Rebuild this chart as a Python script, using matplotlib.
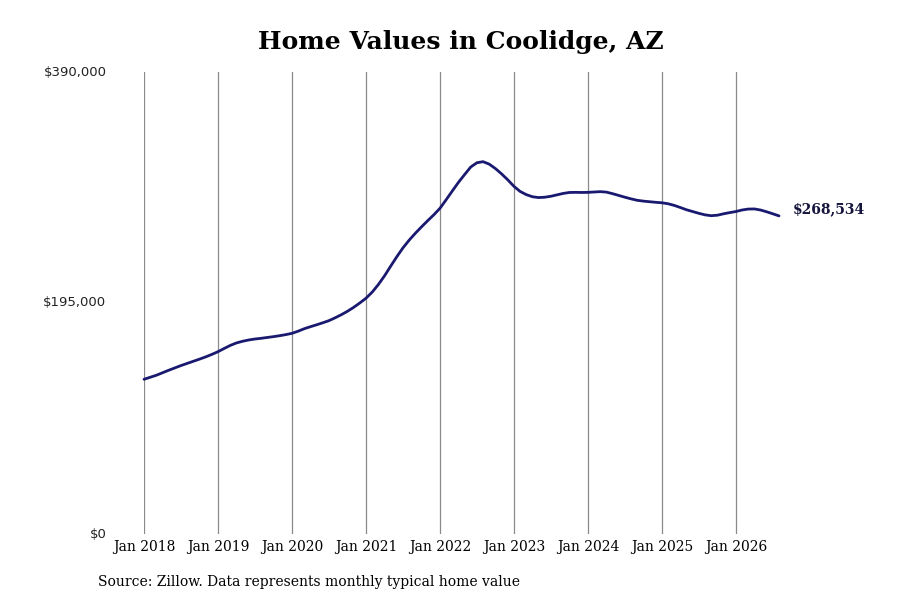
import matplotlib
matplotlib.use("Agg")
import matplotlib.pyplot as plt
import numpy as np

# Monthly typical home value, Jan 2018 .. Aug 2026
values = [
    130600, 132300, 134000, 136100, 138200, 140200, 142200, 144000, 145800, 147600, 149500, 151600,
    153900, 156600, 159200, 161300, 162700, 163800, 164600, 165200, 165900, 166600, 167400, 168300,
    169400, 171200, 173300, 175000, 176600, 178300, 180100, 182500, 185100, 188000, 191300, 195000,
    199000, 204100, 210500, 217800, 226000, 234000, 241500, 248000, 253800, 259200, 264400, 269400,
    274900, 282100, 289500, 296800, 303400, 309800, 313400, 314300, 312200, 308500, 304000, 299000,
    293500, 289200, 286500, 284700, 284000, 284300, 285100, 286300, 287500, 288300, 288400, 288300,
    288400, 288700, 289000, 288600, 287300, 285800, 284300, 282900, 281700, 281000, 280500, 280000,
    279600, 278800, 277400, 275600, 273700, 272200, 270700, 269400, 268700, 269100, 270300, 271300,
    272200, 273500, 274300, 274400, 273500, 272000, 270300, 268534,
]
start_year = 2018
tick_years = list(range(2018, 2027))
tick_labels = [f"Jan {y}" for y in tick_years]
y_ticks = [0, 195000, 390000]
y_tick_labels = ["$0", "$195,000", "$390,000"]
title = "Home Values in Coolidge, AZ"
source = "Source: Zillow. Data represents monthly typical home value"
last_label = "$268,534"

months = np.arange(len(values))
tick_pos = [(y - start_year) * 12 for y in tick_years]

line_color = "#191970"

fig = plt.figure(figsize=(9, 6), dpi=100)
ax = fig.add_axes([144 / 900, 1 - 534 / 600, (779 - 144) / 900, (534 - 72) / 600])

ax.plot(months, values, color=line_color, lw=2.0, clip_on=False, solid_capstyle="round")
ax.set_xlim(0, months[-1])
ax.set_ylim(0, 390000)

ax.set_xticks(tick_pos)
ax.set_xticklabels(tick_labels, family="DejaVu Serif", fontsize=10)
ax.set_yticks(y_ticks)
ax.set_yticklabels(y_tick_labels, family="DejaVu Sans", fontsize=9.5, color="#222222")
ax.tick_params(axis="x", length=0, pad=4)
ax.tick_params(axis="y", length=0, pad=27)
for lbl in ax.get_yticklabels():
    lbl.set_verticalalignment("center")

ax.grid(axis="x", color="#8a8a8a", lw=0.9)
ax.grid(axis="y", visible=False)
for s in ax.spines.values():
    s.set_visible(False)

ax.annotate(last_label, xy=(months[-1], values[-1]), xytext=(10, 4.5), textcoords="offset points",
            ha="left", va="center", family="DejaVu Serif", fontweight="bold", fontsize=10,
            color="#14143c")

fig.text(461 / 900, 1 - 42 / 600, title, ha="center", va="center", family="DejaVu Serif",
         fontweight="bold", fontsize=18)
fig.text(98 / 900, 1 - 582 / 600, source, ha="left", va="center", family="DejaVu Serif",
         fontsize=10)

fig.savefig("out.png", dpi=100)
